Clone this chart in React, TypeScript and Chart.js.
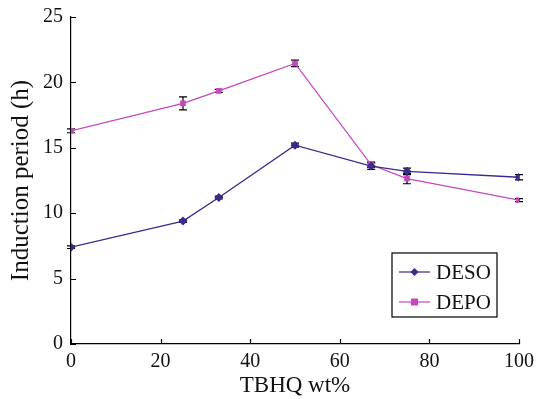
import React, { useEffect, useRef } from "react";
import { Chart, registerables } from "chart.js";

Chart.register(...registerables);

const xValues = [0, 25, 33, 50, 67, 75, 100];
const desoValues = [7.4, 9.4, 11.2, 15.2, 13.6, 13.2, 12.75];
const desoErrors = [0.1, 0.1, 0.1, 0.15, 0.25, 0.25, 0.2];
const depoValues = [16.3, 18.4, 19.35, 21.45, 13.7, 12.65, 11.0];
const depoErrors = [0.15, 0.5, 0.12, 0.25, 0.2, 0.4, 0.12];
const xTicks = [0, 20, 40, 60, 80, 100];
const yTicks = [0, 5, 10, 15, 20, 25];

const DESO_COLOR = "#3b2a8c";
const DEPO_COLOR = "#c447bd";
const FONT = "'Liberation Serif', 'Times New Roman', serif";

const errorBarPlugin = {
  id: "errorBars",
  beforeDatasetsDraw(chart: any) {
    const ctx = chart.ctx;
    const xs = chart.scales.x;
    const ys = chart.scales.y;
    const sets = [
      { vals: desoValues, errs: desoErrors },
      { vals: depoValues, errs: depoErrors },
    ];
    ctx.save();
    ctx.strokeStyle = "#000";
    ctx.lineWidth = 1.2;
    sets.forEach((s) => {
      s.vals.forEach((v, i) => {
        const px = xs.getPixelForValue(xValues[i]);
        const top = ys.getPixelForValue(v + s.errs[i]);
        const bot = ys.getPixelForValue(v - s.errs[i]);
        ctx.beginPath();
        ctx.moveTo(px, top);
        ctx.lineTo(px, bot);
        ctx.moveTo(px - 4, top);
        ctx.lineTo(px + 4, top);
        ctx.moveTo(px - 4, bot);
        ctx.lineTo(px + 4, bot);
        ctx.stroke();
      });
    });
    ctx.restore();
  },
};

const axisTicksPlugin = {
  id: "inwardTicks",
  afterDraw(chart: any) {
    const ctx = chart.ctx;
    const xs = chart.scales.x;
    const ys = chart.scales.y;
    const area = chart.chartArea;
    ctx.save();
    ctx.strokeStyle = "#000";
    ctx.lineWidth = 1.2;
    ctx.beginPath();
    xTicks.forEach((t) => {
      const px = Math.round(xs.getPixelForValue(t)) + 0.5;
      ctx.moveTo(px, area.bottom);
      ctx.lineTo(px, area.bottom - 5);
    });
    yTicks.forEach((t) => {
      const py = Math.round(ys.getPixelForValue(t)) + 0.5;
      ctx.moveTo(area.left, py);
      ctx.lineTo(area.left + 5, py);
    });
    ctx.stroke();
    ctx.restore();
  },
};

const legendPlugin = {
  id: "boxLegend",
  afterDraw(chart: any) {
    const ctx = chart.ctx;
    const area = chart.chartArea;
    const x0 = area.right - 127;
    const y0 = area.bottom - 91;
    const w = 105;
    const h = 64;
    ctx.save();
    ctx.fillStyle = "#fff";
    ctx.fillRect(x0, y0, w, h);
    ctx.strokeStyle = "#000";
    ctx.lineWidth = 1.2;
    ctx.strokeRect(x0, y0, w, h);
    const items = [
      { label: chart.data.datasets[0].label, color: DESO_COLOR, style: "diamond" },
      { label: chart.data.datasets[1].label, color: DEPO_COLOR, style: "square" },
    ];
    items.forEach((it, i) => {
      const cy = y0 + 19 + i * 30;
      ctx.strokeStyle = it.color;
      ctx.lineWidth = 1.2;
      ctx.beginPath();
      ctx.moveTo(x0 + 7, cy);
      ctx.lineTo(x0 + 38, cy);
      ctx.stroke();
      ctx.fillStyle = it.color;
      const cx = x0 + 22.5;
      if (it.style === "diamond") {
        ctx.beginPath();
        ctx.moveTo(cx, cy - 4);
        ctx.lineTo(cx + 4, cy);
        ctx.lineTo(cx, cy + 4);
        ctx.lineTo(cx - 4, cy);
        ctx.closePath();
        ctx.fill();
      } else {
        ctx.fillRect(cx - 3.5, cy - 3.5, 7, 7);
      }
      ctx.fillStyle = "#111";
      ctx.font = `21px ${FONT}`;
      ctx.textBaseline = "middle";
      ctx.textAlign = "left";
      ctx.fillText(it.label, x0 + 44, cy + 1);
    });
    ctx.restore();
  },
};

export default function App() {
  const ref = useRef<HTMLCanvasElement | null>(null);

  useEffect(() => {
    if (!ref.current) return;
    const chart = new Chart(ref.current, {
      type: "line",
      data: {
        datasets: [
          {
            label: "DESO",
            data: xValues.map((x, i) => ({ x, y: desoValues[i] })),
            borderColor: DESO_COLOR,
            backgroundColor: DESO_COLOR,
            borderWidth: 1.3,
            pointStyle: "rectRot",
            pointRadius: 4.5,
            pointBorderWidth: 0,
            tension: 0,
          },
          {
            label: "DEPO",
            data: xValues.map((x, i) => ({ x, y: depoValues[i] })),
            borderColor: DEPO_COLOR,
            backgroundColor: DEPO_COLOR,
            borderWidth: 1.3,
            pointStyle: "rect",
            pointRadius: 4,
            pointBorderWidth: 0,
            tension: 0,
          },
        ],
      },
      options: {
        animation: false,
        responsive: false,
        devicePixelRatio: 1,
        layout: { padding: { left: 0, right: 18, top: 17, bottom: 0 } },
        plugins: {
          legend: { display: false },
          tooltip: { enabled: false },
        },
        scales: {
          x: {
            type: "linear",
            min: 0,
            max: 100,
            afterBuildTicks: (s: any) => {
              s.ticks = xTicks.map((v) => ({ value: v }));
            },
            afterFit: (s: any) => {
              s.height = 55;
              s.paddingLeft = 0;
              s.paddingRight = 0;
            },
            grid: { display: false, drawTicks: false },
            border: { display: true, color: "#000", width: 1.2 },
            ticks: {
              color: "#111",
              font: { family: FONT, size: 20 },
              padding: 6,
              maxRotation: 0,
            },
            title: {
              display: true,
              text: "TBHQ wt%",
              color: "#111",
              font: { family: FONT, size: 23 },
              padding: { top: 0, bottom: -1 },
            },
          },
          y: {
            type: "linear",
            min: 0,
            max: 25,
            afterBuildTicks: (s: any) => {
              s.ticks = yTicks.map((v) => ({ value: v }));
            },
            afterFit: (s: any) => {
              s.width = 71;
              s.paddingTop = 0;
              s.paddingBottom = 0;
            },
            grid: { display: false, drawTicks: false },
            border: { display: true, color: "#000", width: 1.2 },
            ticks: {
              color: "#111",
              font: { family: FONT, size: 20 },
              padding: 8,
            },
            title: {
              display: true,
              text: "Induction period (h)",
              color: "#111",
              font: { family: FONT, size: 25 },
              padding: { top: 6, bottom: 0 },
            },
          },
        },
      } as any,
      plugins: [errorBarPlugin, axisTicksPlugin, legendPlugin],
    });
    return () => chart.destroy();
  }, []);

  return (
    <div style={{ position: "fixed", left: 0, top: 0, width: 537, height: 399, background: "#fff" }}>
      <canvas ref={ref} width={537} height={399} style={{ width: 537, height: 399 }} />
    </div>
  );
}
